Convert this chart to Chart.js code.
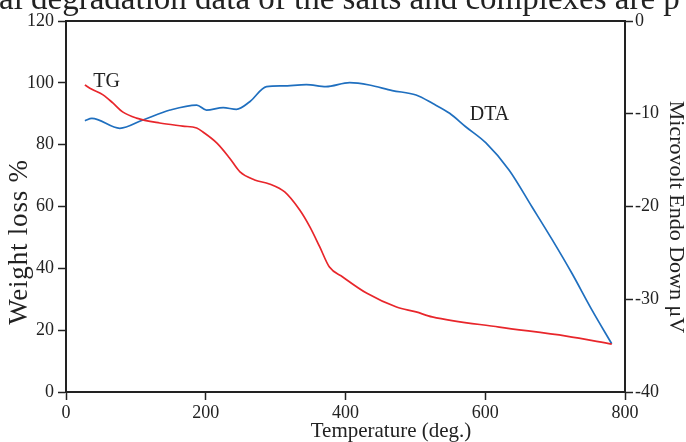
<!DOCTYPE html>
<html>
<head>
<meta charset="utf-8">
<script src="https://cdn.jsdelivr.net/npm/chart.js@4"></script>
<style>
  body { margin: 0; background: #fff; }
  canvas { display: block; }
</style>
</head>
<body>
<canvas id="chart" width="686" height="442"></canvas>
<script>
// TG curve: temperature (deg.) and weight loss %
const tgTemp = [27, 37, 53, 67, 81, 101, 134, 167, 187, 196, 216, 234, 249, 270, 291, 313, 334, 349, 363, 377, 396, 430, 473, 501, 524, 620, 716, 781];
const tgWeight = [99.3, 97.9, 96.1, 93.5, 90.6, 88.6, 87.0, 86.0, 85.4, 84.1, 80.5, 75.7, 71.2, 68.6, 67.3, 64.7, 59.0, 53.4, 47.0, 40.4, 37.2, 32.0, 27.5, 25.9, 24.3, 21.0, 18.1, 15.5];

// DTA curve: temperature (deg.) and microvolt signal
const dtaTemp = [27, 37, 77, 110, 149, 187, 201, 225, 244, 263, 287, 310, 344, 372, 406, 434, 467, 501, 525, 549, 572, 601, 634, 667, 696, 724, 753, 781];
const dtaSignal = [-10.75, -10.5, -11.57, -10.67, -9.6, -9.06, -9.6, -9.34, -9.52, -8.7, -7.08, -7.0, -6.86, -7.08, -6.65, -6.9, -7.5, -7.98, -8.9, -9.95, -11.4, -13.15, -16.06, -20.05, -23.6, -27.2, -31.2, -34.8];

const tempTicks = [0, 200, 400, 600, 800];
const weightTicks = [0, 20, 40, 60, 80, 100, 120];
const signalTicks = [-40, -30, -20, -10, 0];

const FONT = '"Liberation Serif", "Times New Roman", serif';
const INK = '#222';

// text that isn't tied to a scale: frame top, axis titles, curve names
const extras = {
    id: 'extras',
    afterDraw(chart) {
        const ctx = chart.ctx;
        const area = chart.chartArea;
        const sx = chart.scales.x, sy = chart.scales.y, sy2 = chart.scales.y2;
        ctx.save();

        ctx.strokeStyle = INK;
        ctx.lineWidth = 2;
        ctx.beginPath();
        ctx.moveTo(area.left, area.top);
        ctx.lineTo(area.right, area.top);
        ctx.stroke();

        ctx.fillStyle = INK;
        ctx.textBaseline = 'alphabetic';
        ctx.textAlign = 'left';
        ctx.font = '33px ' + FONT;
        ctx.fillText('al degradation data of the salts and complexes are p', -1, 9);

        ctx.textAlign = 'center';
        ctx.textBaseline = 'middle';
        ctx.font = '21px ' + FONT;
        ctx.fillText('Temperature (deg.)', 391, 431);

        ctx.save();
        ctx.translate(20, 242);
        ctx.rotate(-Math.PI / 2);
        ctx.font = '27px ' + FONT;
        ctx.letterSpacing = '0.8px';
        ctx.fillText('Weight loss %', 0, 0);
        ctx.restore();

        ctx.save();
        ctx.translate(676, 217);
        ctx.rotate(Math.PI / 2);
        ctx.font = '22px ' + FONT;
        ctx.fillText('Microvolt Endo Down \u03bcV', 0, 0);
        ctx.restore();

        ctx.font = '20px ' + FONT;
        ctx.fillText('TG', sx.getPixelForValue(58), sy.getPixelForValue(100.3));
        ctx.fillText('DTA', sx.getPixelForValue(606), sy2.getPixelForValue(-10.1));
        ctx.restore();
    }
};

function axisStyle(ticks, pad) {
    return {
        min: ticks[0],
        max: ticks[ticks.length - 1],
        ticks: {
            stepSize: ticks[1] - ticks[0],
            color: INK,
            font: { family: FONT, size: 18 },
            padding: pad,
            maxRotation: 0
        },
        grid: {
            drawOnChartArea: false,
            drawTicks: true,
            tickLength: 8,
            tickColor: INK,
            tickWidth: 1.5
        },
        border: { display: true, color: INK, width: 2 }
    };
}

new Chart(document.getElementById('chart'), {
    type: 'line',
    data: {
        datasets: [{
            label: 'TG',
            data: tgTemp.map((t, i) => ({ x: t, y: tgWeight[i] })),
            yAxisID: 'y',
            borderColor: '#e8262b',
            borderWidth: 1.7,
            pointRadius: 0,
            cubicInterpolationMode: 'monotone'
        }, {
            label: 'DTA',
            data: dtaTemp.map((t, i) => ({ x: t, y: dtaSignal[i] })),
            yAxisID: 'y2',
            borderColor: '#1f6fbf',
            borderWidth: 1.7,
            pointRadius: 0,
            cubicInterpolationMode: 'monotone'
        }]
    },
    options: {
        responsive: false,
        animation: false,
        layout: { padding: { top: 21, left: 0, right: 0, bottom: 0 } },
        plugins: {
            legend: { display: false },
            tooltip: { enabled: false }
        },
        scales: {
            x: Object.assign(axisStyle(tempTicks, 2), {
                type: 'linear',
                afterFit(s) { s.height = 50; }
            }),
            y: Object.assign(axisStyle(weightTicks, 4), {
                position: 'left',
                afterFit(s) { s.width = 66; }
            }),
            y2: Object.assign(axisStyle(signalTicks, 2), {
                position: 'right',
                afterFit(s) { s.width = 61; }
            })
        }
    },
    plugins: [extras]
});
</script>
</body>
</html>
